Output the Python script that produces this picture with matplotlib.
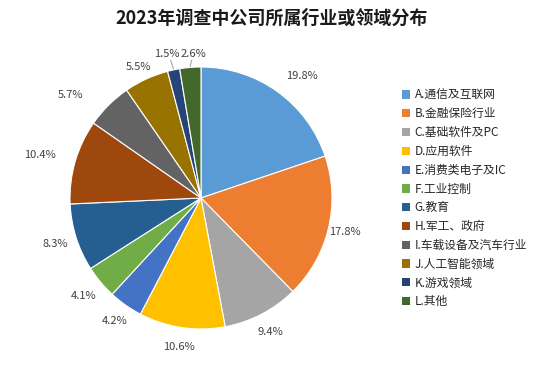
import numpy as np
import matplotlib

matplotlib.use("Agg")
import matplotlib.pyplot as plt
from matplotlib.patches import Patch

plt.rcParams["font.family"] = ["Noto Sans CJK SC", "DejaVu Sans"]

categories = [
    "A.通信及互联网", "B.金融保险行业", "C.基础软件及PC", "D.应用软件",
    "E.消费类电子及IC", "F.工业控制", "G.教育", "H.军工、政府",
    "I.车载设备及汽车行业", "J.人工智能领域", "K.游戏领域", "L.其他",
]
shares = [19.8, 17.8, 9.4, 10.6, 4.2, 4.1, 8.3, 10.4, 5.7, 5.5, 1.5, 2.6]
colors = ["#5B9BD5", "#ED7D31", "#A5A5A5", "#FFC000", "#4472C4", "#70AD47",
          "#255E91", "#9E480E", "#636363", "#997300", "#264478", "#43682B"]

# layout only: radial distance and angle nudge of each percentage label
label_dist = [1.21, 1.13, 1.15, 1.15, 1.15, 1.17, 1.17, 1.27, 1.27, 1.11, 1.25, 0.75]
label_nudge = [-4, 0, 0, 0, 0, 0, 0, 1, 7, 1, 0, 0]

W, H = 546, 365
fig = plt.figure(figsize=(W / 100, H / 100), dpi=100)
cx, cy, R = 201, 198, 131
ax = fig.add_axes([(cx - R) / W, (H - cy - R) / H, 2 * R / W, 2 * R / H])
wedges, _ = ax.pie(shares, colors=colors, startangle=90, counterclock=False,
                   radius=1, wedgeprops=dict(edgecolor="white", linewidth=0.8))
ax.set_xlim(-1, 1)
ax.set_ylim(-1, 1)
ax.set_aspect("equal")
ax.axis("off")

for w, v, d, nd in zip(wedges, shares, label_dist, label_nudge):
    mid = np.deg2rad((w.theta1 + w.theta2) / 2)
    x, y = np.cos(mid), np.sin(mid)
    if v < 3:
        # tiny slices at the top: label above with a short leader line
        tx, ty = x * d, 1.10
        ax.plot([x * 1.01, tx + (0.03 if tx < x else -0.01)], [y * 1.01, 1.05],
                color="#A6A6A6", lw=0.8, clip_on=False)
        ax.text(tx, ty, f"{v}%", ha="center", va="center", fontsize=8, color="#404040")
    else:
        a = mid + np.deg2rad(nd)
        ax.text(np.cos(a) * d, np.sin(a) * d, f"{v}%", ha="center", va="center",
                fontsize=8, color="#404040")

fig.text(272 / W, 1 - 18 / H, "2023年调查中公司所属行业或领域分布", ha="center", va="center",
         fontsize=13, fontweight="bold", color="#1a1a1a")

handles = [Patch(facecolor=c, edgecolor="none") for c in colors]
fig.legend(handles, categories, loc="upper left", bbox_to_anchor=(391 / W, 1 - 78 / H),
           frameon=False, fontsize=8.5, handlelength=0.7, handleheight=0.7,
           labelspacing=0.49, handletextpad=0.4, labelcolor="#262626")

fig.savefig("out.png", dpi=100)
